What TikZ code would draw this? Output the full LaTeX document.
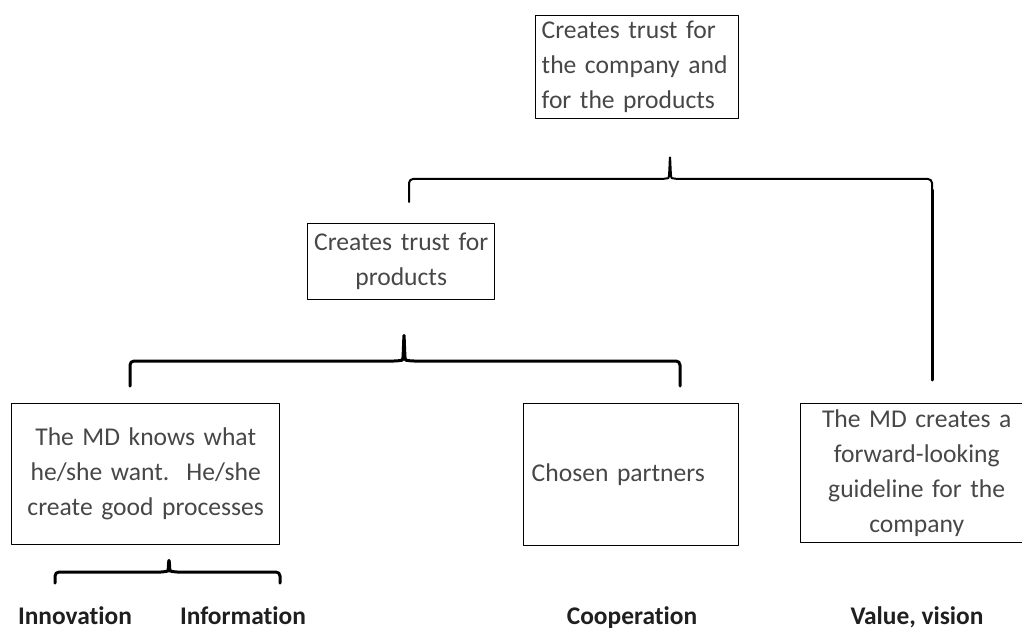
\documentclass[tikz,border=0pt]{standalone}
\usepackage{fontspec}
\setmainfont{Carlito}[Ligatures=NoCommon]
\usetikzlibrary{calc}
\frenchspacing

\begin{document}
\begin{tikzpicture}[
  x=1pt,y=-1pt,
  line cap=round,
  line join=round,
  box/.style={draw=black,line width=1.4pt,anchor=north west,inner ysep=0pt,
    text=black!72,font=\fontsize{25.6}{35}\selectfont},
  brace/.style={black,line width=3pt,rounded corners=4pt},
  thinbrace/.style={black,line width=2pt,rounded corners=4pt},
  factor/.style={font=\fontsize{25.4}{30}\selectfont\bfseries,text=black!88,
    anchor=base,inner sep=0pt}
]
\path[use as bounding box] (0,0) rectangle (1022,631);
\clip (0,0) rectangle (1022,631);

\node[box,minimum width=203pt,minimum height=103pt,text width=191pt,
  inner xsep=6pt,align=left] (trustall) at (535,15)
  {Creates trust for\\the company and\\for the products};
\node[box,minimum width=187pt,minimum height=76pt,text width=175pt,
  inner xsep=6pt,align=center] (trustprod) at (307,223)
  {Creates trust for\\products};

\node[box,minimum width=268pt,minimum height=141pt,text width=256pt,
  inner xsep=6pt,align=center] (knows) at (11,403)
  {The MD knows what\\he/she want.~ He/she\\create good processes};
\node[box,minimum width=215pt,minimum height=142pt,text width=199pt,
  inner xsep=8pt,align=left] (partners) at (523,403)
  {Chosen partners};
\node[box,minimum width=232pt,minimum height=139pt,text width=220pt,
  inner xsep=6pt,align=center] (guideline) at (800,403)
  {The MD creates a\\forward-looking\\guideline for the\\company};

\node[factor] (innov) at (75,624) {Innovation};
\node[factor] (inform) at (243,624) {Information};
\node[factor] (coop) at (632,624) {Cooperation};
\node[factor] (vision) at (917,624) {Value, vision};

% brace ends and peaks
\coordinate (topL) at (409,202);
\coordinate (topP) at (670,155);
\coordinate (topR) at (932,380);
\coordinate (midL) at (130,386);
\coordinate (midP) at (404,333);
\coordinate (midR) at (680,386);
\coordinate (lowL) at (55,583);
\coordinate (lowP) at (169,558);
\coordinate (lowR) at (280,583);

\draw[thinbrace] (topL) |- ($(topP)+(-6,24)$)
  .. controls ($(topP)+(-1,23)$) .. (topP)
  .. controls ($(topP)+(1,23)$) .. ($(topP)+(6,24)$) -| (topR);
\draw[black,line width=3pt] ($(topR)+(0,-190)$) -- (topR);

\draw[brace] (midL) |- ($(midP)+(-6,28)$)
  .. controls ($(midP)+(-1,27)$) .. (midP)
  .. controls ($(midP)+(1,27)$) .. ($(midP)+(6,28)$) -| (midR);

\draw[brace] (lowL) |- ($(lowP)+(-4,14)$)
  .. controls ($(lowP)+(-1,13)$) .. (lowP)
  .. controls ($(lowP)+(1,13)$) .. ($(lowP)+(4,14)$) -| (lowR);
\end{tikzpicture}
\end{document}
